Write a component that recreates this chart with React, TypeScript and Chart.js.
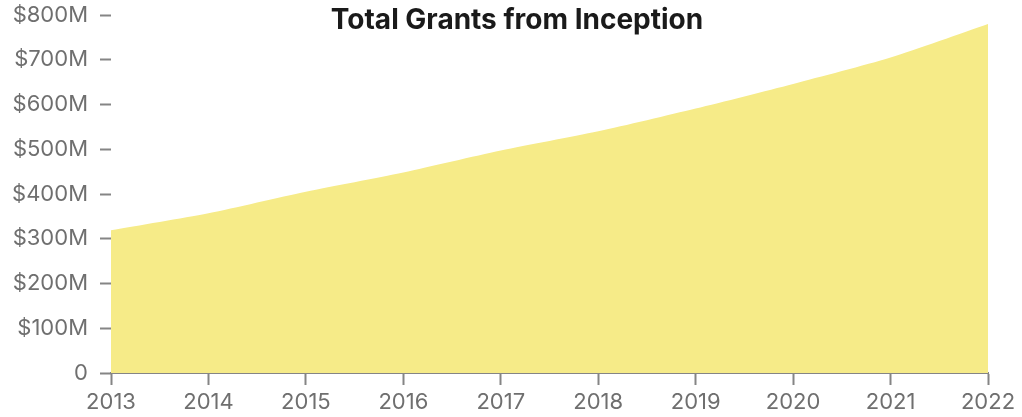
import React, { useEffect, useRef } from "react";
import { Chart, registerables } from "chart.js";

Chart.register(...registerables);

const years = ["2013", "2014", "2015", "2016", "2017", "2018", "2019", "2020", "2021", "2022"];
const totalGrants = [319, 357, 405, 448, 497, 540, 591, 646, 705, 780]; // $M
const yTicks = [0, 100, 200, 300, 400, 500, 600, 700, 800];
const title = "Total Grants from Inception";

const FONT = "Inter, 'Liberation Sans', Arial, sans-serif";
const GRAY = "#6f6f6f";
const AXIS = "#858585";

const titlePlugin = {
  id: "inlineTitle",
  afterDraw(chart: any) {
    const ctx = chart.ctx;
    ctx.save();
    ctx.font = `bold 28px ${FONT}`;
    ctx.fillStyle = "#1a1a1a";
    ctx.textAlign = "center";
    ctx.textBaseline = "middle";
    ctx.fillText(title, 517, 21);
    ctx.restore();
  },
};

export default function App() {
  const ref = useRef<HTMLCanvasElement>(null);
  useEffect(() => {
    document.body.style.margin = "0";
    const chart = new Chart(ref.current!, {
      type: "line",
      data: {
        labels: years,
        datasets: [
          {
            data: totalGrants,
            fill: "origin",
            backgroundColor: "#F6EB88",
            borderWidth: 0,
            borderColor: "rgba(0,0,0,0)",
            pointRadius: 0,
            tension: 0.25,
          },
        ],
      },
      options: {
        animation: false,
        responsive: false,
        maintainAspectRatio: false,
        layout: { padding: { top: 15, right: 34, left: 0, bottom: 0 } },
        plugins: { legend: { display: false }, tooltip: { enabled: false }, title: { display: false } },
        scales: {
          x: {
            offset: false,
            afterFit: (s: any) => {
              s.height = 44;
              s.paddingLeft = 0;
              s.paddingRight = 0;
            },
            border: { display: true, color: AXIS, width: 2 },
            grid: { drawOnChartArea: false, drawTicks: true, tickLength: 12, tickColor: AXIS, tickWidth: 2 },
            ticks: {
              color: GRAY,
              font: { family: FONT, size: 22 },
              padding: 4,
              maxRotation: 0,
              autoSkip: false,
            },
          },
          y: {
            min: 0,
            max: 800,
            afterFit: (s: any) => {
              s.width = 111;
              s.paddingTop = 0;
              s.paddingBottom = 0;
            },
            afterBuildTicks: (s: any) => {
              s.ticks = yTicks.map((v) => ({ value: v }));
            },
            border: { display: false },
            grid: { drawOnChartArea: false, drawTicks: true, tickLength: 11, tickColor: AXIS, tickWidth: 2 },
            ticks: {
              color: GRAY,
              font: { family: FONT, size: 22 },
              padding: 12,
              callback: (v: any) => (v === 0 ? "0" : `$${v}M`),
            },
          },
        },
      },
      plugins: [titlePlugin],
    });
    return () => chart.destroy();
  }, []);
  return (
    <div style={{ width: 1022, height: 417 }}>
      <canvas ref={ref} width={1022} height={417} style={{ display: "block", width: 1022, height: 417 }} />
    </div>
  );
}
